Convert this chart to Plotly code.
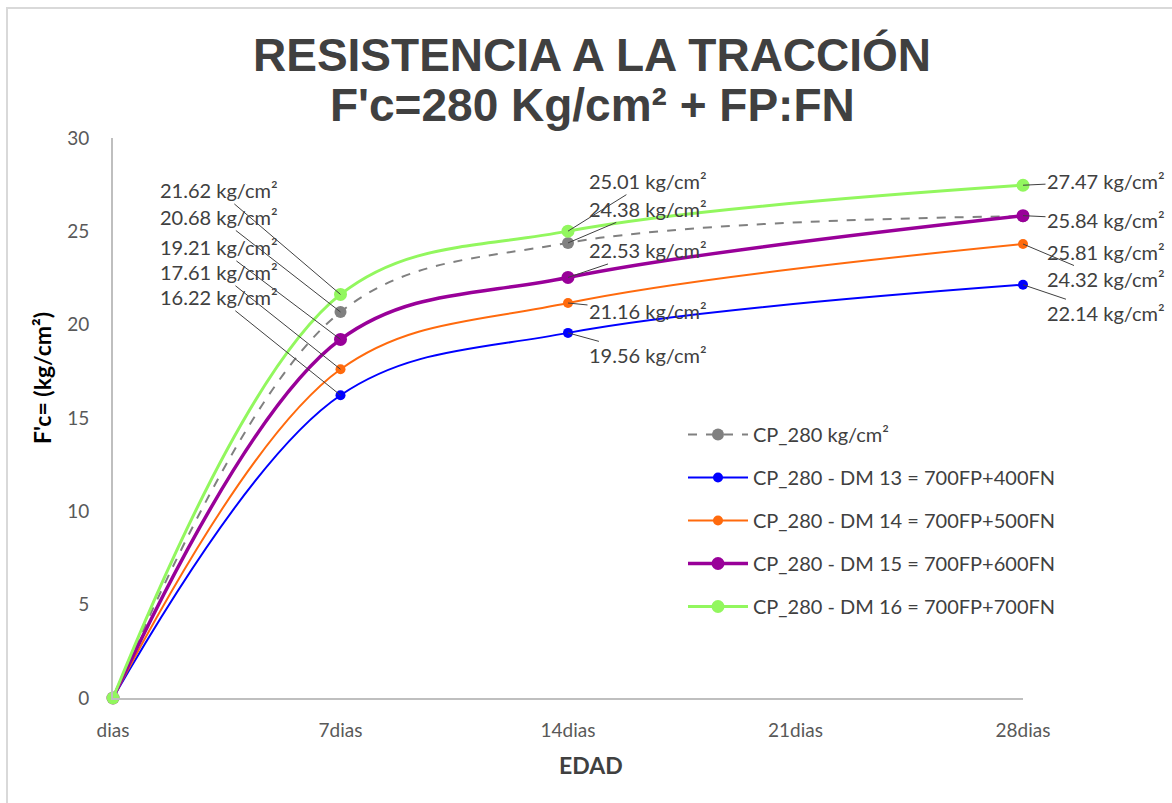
import plotly.graph_objects as go

categories = ["dias", "7dias", "14dias", "21dias", "28dias"]
x_points = ["dias", "7dias", "14dias", "28dias"]

series_names = [
    "CP_280 kg/cm²",
    "CP_280 - DM 13 = 700FP+400FN",
    "CP_280 - DM 14 = 700FP+500FN",
    "CP_280 - DM 15 = 700FP+600FN",
    "CP_280 - DM 16 = 700FP+700FN",
]
cp_280 = [0, 20.68, 24.38, 25.81]
dm_13 = [0, 16.22, 19.56, 22.14]
dm_14 = [0, 17.61, 21.16, 24.32]
dm_15 = [0, 19.21, 22.53, 25.84]
dm_16 = [0, 21.62, 25.01, 27.47]
series_values = [cp_280, dm_13, dm_14, dm_15, dm_16]

title_lines = ["RESISTENCIA A LA TRACCIÓN", "F'c=280 Kg/cm² + FP:FN"]

colors = ["#808080", "#0000FF", "#FF6A0D", "#990099", "#92F75E"]
widths = [2, 2, 2, 3.5, 3]
dashes = ["dash", "solid", "solid", "solid", "solid"]
msizes = [12, 10, 10, 13, 13]

FONT = "Lato, Carlito, Calibri, sans-serif"

# label pixel offsets (ax, ay) per series at 7, 14, 28 days
label_offsets = {
    0: [(-122, -95), (80, -34), (83, 36)],
    1: [(-122, -98), (80, 22), (83, 28)],
    2: [(-122, -97), (80, 8), (83, 35)],
    3: [(-122, -92), (80, -27), (83, 4)],
    4: [(-122, -104), (80, -50), (83, -4)],
}

fig = go.Figure()
annotations = []
for i, (name, vals) in enumerate(zip(series_names, series_values)):
    fig.add_trace(go.Scatter(
        x=x_points, y=vals, name=name, mode="lines+markers",
        line=dict(color=colors[i], width=widths[i], dash=dashes[i], shape="spline", smoothing=1),
        marker=dict(color=colors[i], size=msizes[i]),
        cliponaxis=False, legendgroup=f"g{i}",
    ))
    for j, (xc, v) in enumerate(zip(x_points[1:], vals[1:])):
        ax, ay = label_offsets[i][j]
        annotations.append(dict(
            x=xc, y=v, xref="x", yref="y", text=f"{v:.2f} kg/cm²",
            showarrow=True, arrowhead=0, arrowwidth=1, arrowcolor="#404040",
            ax=ax, ay=ay, font=dict(family=FONT, size=20, color="#404040"),
            xanchor="center", yanchor="middle",
        ))

W, H = 1172, 803
L, R, T, B = 113, 149, 138, 105
pw, ph = W - L - R, H - T - B

for k, (line, ypx) in enumerate(zip(title_lines, [55, 105])):
    annotations.append(dict(
        text=f"<b>{line}</b>",
        xref="paper", yref="paper", x=(592 - L) / pw, y=(698 - ypx) / ph,
        xanchor="center", yanchor="middle", showarrow=False,
        font=dict(family="Liberation Sans Narrow, Arial Narrow, Liberation Sans, Arial", size=46, color="#404040"),
    ))
annotations.append(dict(
    text="<b>F'c= (kg/cm²)</b>", textangle=-90,
    xref="paper", yref="paper", x=(42 - L) / pw, y=(698 - 378) / ph,
    xanchor="center", yanchor="middle", showarrow=False,
    font=dict(family=FONT, size=23, color="#000000"),
))
annotations.append(dict(
    text="<b>EDAD</b>",
    xref="paper", yref="paper", x=(591 - L) / pw, y=(698 - 765) / ph,
    xanchor="center", yanchor="middle", showarrow=False,
    font=dict(family=FONT, size=23, color="#404040"),
))

fig.update_layout(
    width=W, height=H,
    margin=dict(l=L, r=R, t=T, b=B),
    paper_bgcolor="white", plot_bgcolor="white",
    showlegend=True,
    legend=dict(
        x=(683 - L) / pw, y=(698 - 415) / ph, xanchor="left", yanchor="top",
        font=dict(family=FONT, size=20, color="#404040"),
        tracegroupgap=14, itemwidth=60, bgcolor="rgba(0,0,0,0)",
    ),
    annotations=annotations,
    shapes=[dict(
        type="rect", xref="paper", yref="paper",
        x0=(7 - L) / pw, x1=(W + 20 - L) / pw,
        y0=(698 - (H + 20)) / ph, y1=(698 - 8) / ph,
        line=dict(color="#D9D9D9", width=2), fillcolor="rgba(0,0,0,0)", layer="below",
    )],
)

fig.update_xaxes(
    type="category", categoryorder="array", categoryarray=categories,
    range=[0, 4], showgrid=False, zeroline=False,
    showline=True, linecolor="#BFBFBF", linewidth=2,
    ticks="", ticklabelstandoff=14,
    tickfont=dict(family=FONT, size=19, color="#595959"),
)
fig.update_yaxes(
    range=[0, 30], dtick=5, showgrid=False, zeroline=False,
    showline=True, linecolor="#BFBFBF", linewidth=2,
    ticks="", ticklabelstandoff=18,
    tickfont=dict(family=FONT, size=19, color="#595959"),
)

fig.write_html("out.html")
